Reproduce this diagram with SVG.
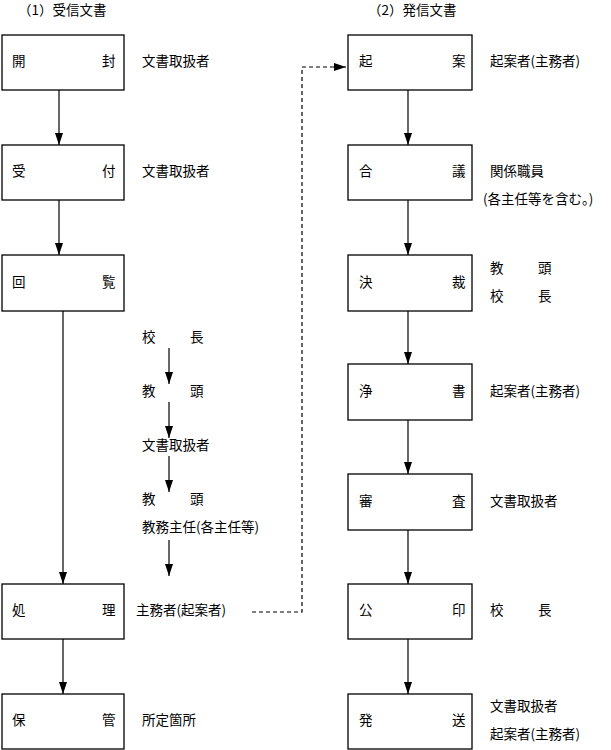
<svg xmlns="http://www.w3.org/2000/svg" width="611" height="750" viewBox="0 0 611 750">
<style>
text{font-family:"Noto Sans CJK JP",sans-serif;font-size:13.5px;fill:#000;dominant-baseline:middle}
.b{fill:#fff;stroke:#000;stroke-width:1.3}
.c{stroke:#000;stroke-width:1.2;fill:none}
.d{stroke:#000;stroke-width:1.2;fill:none;stroke-dasharray:4 3}
</style>
<defs><marker id="h" markerWidth="12" markerHeight="8" refX="12" refY="4" orient="auto" markerUnits="userSpaceOnUse"><path d="M0,0L12,4L0,8z" fill="#000"/></marker></defs>
<text x="18" y="11">（1）受信文書</text>
<text x="368" y="11">（2）発信文書</text>
<g id="connectors">
<line class="c" x1="59" y1="90" x2="59" y2="145" marker-end="url(#h)"/>
<line class="c" x1="59" y1="200" x2="59" y2="255" marker-end="url(#h)"/>
<line class="c" x1="63" y1="311" x2="63" y2="584" marker-end="url(#h)"/>
<line class="c" x1="63" y1="639" x2="63" y2="694" marker-end="url(#h)"/>
<line class="c" x1="169" y1="348" x2="169" y2="384" marker-end="url(#h)"/>
<line class="c" x1="169" y1="402" x2="169" y2="438" marker-end="url(#h)"/>
<line class="c" x1="169" y1="456" x2="169" y2="492" marker-end="url(#h)"/>
<line class="c" x1="169" y1="540" x2="169" y2="576" marker-end="url(#h)"/>
<line class="c" x1="408" y1="90" x2="408" y2="145" marker-end="url(#h)"/>
<line class="c" x1="408" y1="200" x2="408" y2="255" marker-end="url(#h)"/>
<line class="c" x1="408" y1="311" x2="408" y2="364" marker-end="url(#h)"/>
<line class="c" x1="408" y1="420" x2="408" y2="474" marker-end="url(#h)"/>
<line class="c" x1="408" y1="530" x2="408" y2="584" marker-end="url(#h)"/>
<line class="c" x1="408" y1="639" x2="408" y2="694" marker-end="url(#h)"/>
<path class="d" d="M252,612H302V67H346" marker-end="url(#h)"/>
</g>
<g id="n1"><rect class="b" x="2" y="35" width="122" height="55"/><text x="12" y="62">開</text><text x="102" y="62">封</text><text x="142" y="62">文書取扱者</text></g>
<g id="n2"><rect class="b" x="2" y="145" width="122" height="55"/><text x="12" y="172">受</text><text x="102" y="172">付</text><text x="142" y="172">文書取扱者</text></g>
<g id="n3"><rect class="b" x="2" y="255" width="122" height="56"/><text x="12" y="283">回</text><text x="102" y="283">覧</text></g>
<g id="n4"><rect class="b" x="2" y="584" width="122" height="55"/><text x="12" y="611">処</text><text x="102" y="611">理</text><text x="136" y="611">主務者(起案者)</text></g>
<g id="n5"><rect class="b" x="2" y="694" width="122" height="55"/><text x="12" y="721">保</text><text x="102" y="721">管</text><text x="142" y="721">所定箇所</text></g>
<g id="mid">
<text x="142" y="338">校</text><text x="190" y="338">長</text>
<text x="142" y="392">教</text><text x="190" y="392">頭</text>
<text x="142" y="446">文書取扱者</text>
<text x="142" y="500">教</text><text x="190" y="500">頭</text>
<text x="142" y="528">教務主任(各主任等)</text>
</g>
<g id="r1"><rect class="b" x="348" y="35" width="124" height="55"/><text x="359" y="62">起</text><text x="452" y="62">案</text><text x="490" y="62">起案者(主務者)</text></g>
<g id="r2"><rect class="b" x="348" y="145" width="124" height="55"/><text x="359" y="172">合</text><text x="452" y="172">議</text><text x="490" y="172">関係職員</text><text x="483" y="200">(各主任等を含む。)</text></g>
<g id="r3"><rect class="b" x="348" y="255" width="124" height="56"/><text x="359" y="283">決</text><text x="452" y="283">裁</text><text x="490" y="269">教</text><text x="538" y="269">頭</text><text x="490" y="297">校</text><text x="538" y="297">長</text></g>
<g id="r4"><rect class="b" x="348" y="364" width="124" height="56"/><text x="359" y="392">浄</text><text x="452" y="392">書</text><text x="490" y="392">起案者(主務者)</text></g>
<g id="r5"><rect class="b" x="348" y="474" width="124" height="56"/><text x="359" y="502">審</text><text x="452" y="502">査</text><text x="490" y="502">文書取扱者</text></g>
<g id="r6"><rect class="b" x="348" y="584" width="124" height="55"/><text x="359" y="611">公</text><text x="452" y="611">印</text><text x="490" y="611">校</text><text x="538" y="611">長</text></g>
<g id="r7"><rect class="b" x="348" y="694" width="124" height="55"/><text x="359" y="721">発</text><text x="452" y="721">送</text><text x="490" y="707">文書取扱者</text><text x="490" y="735">起案者(主務者)</text></g>
</svg>
